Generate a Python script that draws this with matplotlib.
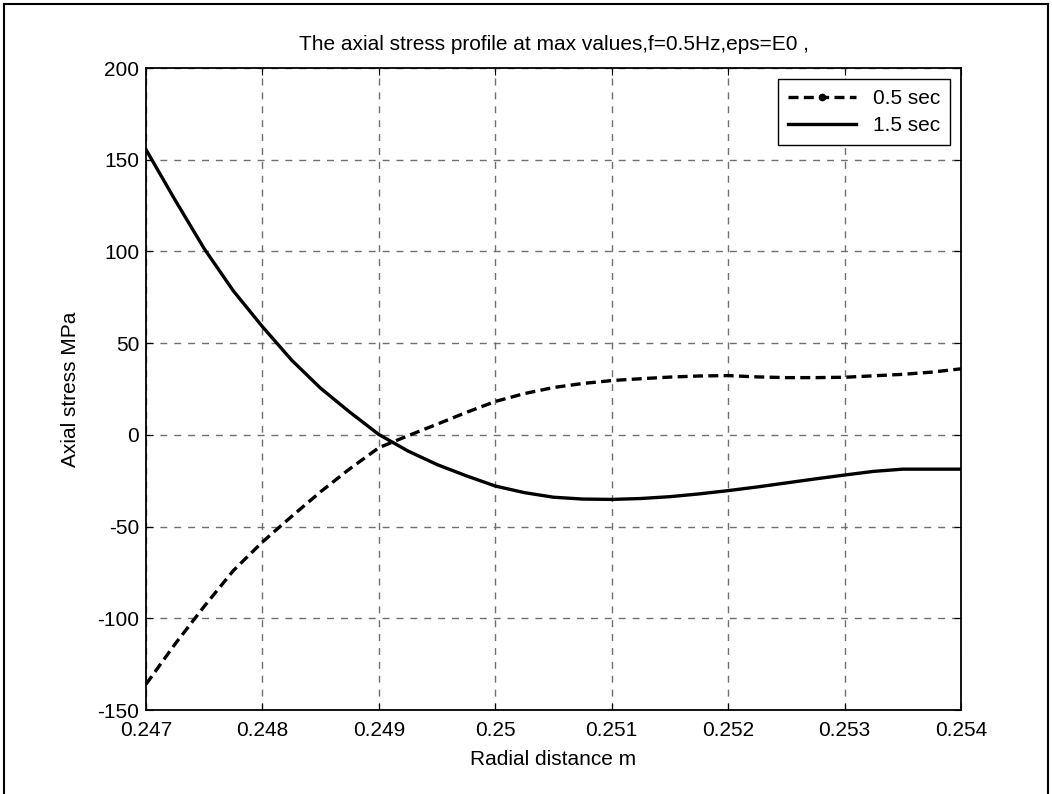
import matplotlib
matplotlib.use("Agg")
import matplotlib.pyplot as plt
from matplotlib.lines import Line2D

plt.rcParams['font.family'] = ['Liberation Sans', 'DejaVu Sans']
plt.rcParams['axes.unicode_minus'] = False

# radial positions (m) and axial stress (MPa)
r = [0.24700, 0.24725, 0.24750, 0.24775, 0.24800, 0.24825, 0.24850, 0.24875,
     0.24900, 0.24925, 0.24950, 0.24975, 0.25000, 0.25025, 0.25050, 0.25075,
     0.25100, 0.25125, 0.25150, 0.25175, 0.25200, 0.25225, 0.25250, 0.25275,
     0.25300, 0.25325, 0.25350, 0.25375, 0.25400]
stress_05 = [-136, -114, -93.5, -74, -58.4, -44.5, -31, -18.5,
             -7, -0.5, 5.8, 12.2, 18.2, 22.5, 25.8, 28,
             29.6, 30.6, 31.5, 32.1, 32.3, 31.6, 31.2, 31.2,
             31.4, 32.2, 33, 34.2, 36]
stress_15 = [155.5, 128, 101.5, 78.5, 59, 40.8, 25.4, 12.4,
             0.2, -8.8, -16.2, -22.3, -27.9, -31.5, -34, -35,
             -35.2, -34.7, -33.7, -32.2, -30.4, -28.4, -26.2, -24,
             -21.9, -19.9, -18.7, -18.7, -18.7]

x_ticks = [0.247, 0.248, 0.249, 0.25, 0.251, 0.252, 0.253, 0.254]
x_tick_labels = ["0.247", "0.248", "0.249", "0.25", "0.251", "0.252", "0.253", "0.254"]
y_ticks = [-150, -100, -50, 0, 50, 100, 150, 200]

FS = 15

fig = plt.figure(figsize=(10.52, 7.94), dpi=100)
ax = fig.add_axes([146 / 1052, 1 - 710 / 794, (961 - 146) / 1052, (710 - 68) / 794])

ax.plot(r, stress_05, color='black', linestyle='--', linewidth=2.4, dashes=(3, 1.6))
ax.plot(r, stress_15, color='black', linestyle='-', linewidth=2.4)

ax.set_xlim(0.247, 0.254)
ax.set_ylim(-150, 200)
ax.set_xticks(x_ticks)
ax.set_xticklabels(x_tick_labels)
ax.set_yticks(y_ticks)
ax.tick_params(direction='in', top=True, right=True, labelsize=FS, length=5)
ax.tick_params(axis='x', pad=8)
ax.tick_params(axis='y', pad=5)
ax.grid(True, color='#707070', linestyle=(0, (5, 5)), linewidth=1)
for s in ax.spines.values():
    s.set_linewidth(1.3)

ax.set_title("The axial stress profile at max values,f=0.5Hz,eps=E0 ,", fontsize=FS, pad=13)
ax.set_xlabel("Radial distance m", fontsize=FS, labelpad=7)
ax.set_ylabel("Axial stress MPa", fontsize=FS, labelpad=12)

handles = [
    Line2D([], [], color='black', linestyle='--', linewidth=2.4, marker='.', markersize=9,
           dashes=(3, 1.6)),
    Line2D([], [], color='black', linestyle='-', linewidth=2.4),
]
leg = ax.legend(handles, ["0.5 sec", "1.5 sec"], loc='upper right', fontsize=FS,
                fancybox=False, edgecolor='black', framealpha=1, handlelength=3.3,
                borderaxespad=0.55, borderpad=0.45, labelspacing=0.4)
leg.get_frame().set_linewidth(1.0)

# figure border (left, top, right)
for xs, ys in [([4 / 1052, 4 / 1052], [0, 1 - 4 / 794]),
               ([4 / 1052, 1048 / 1052], [1 - 4 / 794, 1 - 4 / 794]),
               ([1048 / 1052, 1048 / 1052], [0, 1 - 4 / 794])]:
    fig.add_artist(Line2D(xs, ys, color='black', linewidth=1.5, transform=fig.transFigure))

fig.savefig("out.png", dpi=100)
